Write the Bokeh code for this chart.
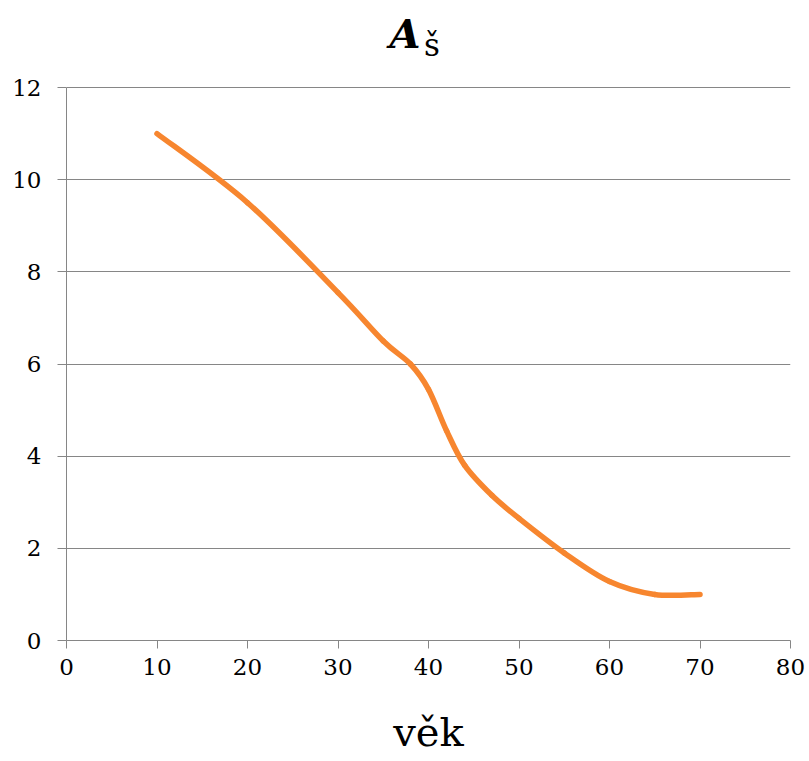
from bokeh.plotting import figure
from bokeh.models import FixedTicker, Label, ColumnDataSource
from bokeh.embed import file_html
from bokeh.resources import INLINE

# data
age = [10, 20, 30, 35, 38, 40, 42, 44, 47, 50, 55, 60, 65, 70]
a_s = [11.0, 9.5, 7.55, 6.5, 6.0, 5.45, 4.55, 3.8, 3.15, 2.65, 1.9, 1.28, 1.0, 1.0]
x_ticks = [0, 10, 20, 30, 40, 50, 60, 70, 80]
y_ticks = [0, 2, 4, 6, 8, 10, 12]
title_main = "A"
title_sub = "š"
x_label = "věk"

FONT = "DejaVu Serif"
GRAY = "#868686"
ORANGE = "#F7862F"

Y_MAX = 12
PX_PER_Y = 553 / 12.0
FRAME_H = 640
p = figure(frame_width=724, frame_height=FRAME_H, x_range=(0, 80),
           y_range=(0, FRAME_H / PX_PER_Y),
           output_backend="svg", toolbar_location=None,
           min_border_left=66, min_border_right=15, min_border_top=0, min_border_bottom=121)
p.outline_line_color = None
p.background_fill_color = "white"

# smooth line (Excel-style Bezier segments through the data points)
n = len(age)
x0, y0, x1, y1, cx0, cy0, cx1, cy1 = [], [], [], [], [], [], [], []
for i in range(n - 1):
    pm = max(i - 1, 0)
    pn = min(i + 2, n - 1)
    x0.append(age[i]); y0.append(a_s[i])
    x1.append(age[i + 1]); y1.append(a_s[i + 1])
    cx0.append(age[i] + (age[i + 1] - age[pm]) / 6.0)
    cy0.append(a_s[i] + (a_s[i + 1] - a_s[pm]) / 6.0)
    cx1.append(age[i + 1] - (age[pn] - age[i]) / 6.0)
    cy1.append(a_s[i + 1] - (a_s[pn] - a_s[i]) / 6.0)
src = ColumnDataSource(dict(x0=x0, y0=y0, x1=x1, y1=y1, cx0=cx0, cy0=cy0, cx1=cx1, cy1=cy1))
p.bezier(x0="x0", y0="y0", x1="x1", y1="y1", cx0="cx0", cy0="cy0", cx1="cx1", cy1="cy1",
         source=src, line_color=ORANGE, line_width=5.5, line_cap="round")

# axes
p.xaxis.ticker = FixedTicker(ticks=x_ticks)
p.yaxis.ticker = FixedTicker(ticks=y_ticks)
p.yaxis.bounds = (0, Y_MAX)
for ax in (p.xaxis[0], p.yaxis[0]):
    ax.axis_line_color = GRAY
    ax.major_tick_line_color = GRAY
    ax.major_tick_in = 0
    ax.minor_tick_line_color = None
    ax.major_label_text_font = FONT
    ax.major_label_text_font_size = "23px"
    ax.major_label_text_color = "black"
p.yaxis.major_tick_out = 9
p.yaxis.major_label_standoff = 16
p.xaxis.major_tick_out = 8
p.xaxis.major_label_standoff = 10
p.xaxis.axis_label = x_label
p.xaxis.axis_label_text_font = FONT
p.xaxis.axis_label_text_font_size = "40px"
p.xaxis.axis_label_text_font_style = "normal"
p.xaxis.axis_label_text_color = "black"
p.xaxis.axis_label_standoff = 31

p.xgrid.grid_line_color = None
p.ygrid.grid_line_color = GRAY
p.ygrid.grid_line_width = 1
p.ygrid.bounds = (0, Y_MAX)

# title: bold italic A with subscript š
p.add_layout(Label(x=35.7, y=13.17, text=title_main, text_font=FONT, text_font_size="40px",
                   text_font_style="bold italic", text_color="black",
                   text_baseline="alphabetic"))
p.add_layout(Label(x=39.5, y=12.92, text=title_sub, text_font=FONT, text_font_size="31px",
                   text_color="black", text_baseline="alphabetic"))

open("out.html", "w").write(file_html(p, INLINE))
